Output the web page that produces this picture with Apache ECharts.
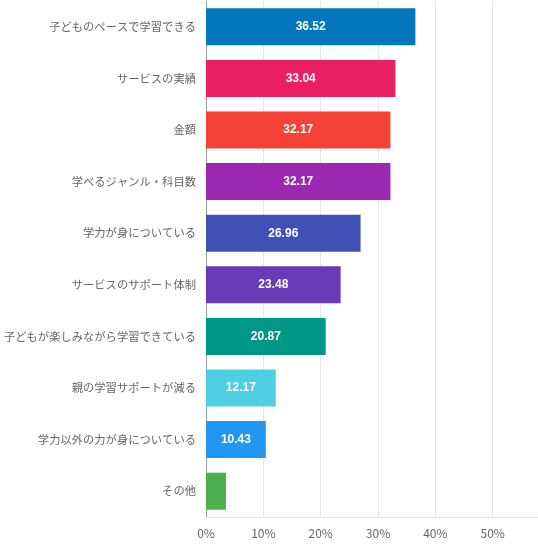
<!DOCTYPE html>
<html>
<head>
<meta charset="utf-8">
<script src="https://cdn.jsdelivr.net/npm/echarts@6/dist/echarts.min.js"></script>
<style>
html,body{margin:0;padding:0;background:#fff;}
#main{width:538px;height:544px;}
</style>
</head>
<body>
<div id="main"></div>
<script>
const categories = [
  "子どものペースで学習できる",
  "サービスの実績",
  "金額",
  "学べるジャンル・科目数",
  "学力が身についている",
  "サービスのサポート体制",
  "子どもが楽しみながら学習できている",
  "親の学習サポートが減る",
  "学力以外の力が身についている",
  "その他"
];
const values = [36.52, 33.04, 32.17, 32.17, 26.96, 23.48, 20.87, 12.17, 10.43, 3.48];
const colors = ["#0277BD", "#E91E63", "#F44336", "#9C27B0", "#3F51B5", "#673AB7", "#009688", "#4DD0E1", "#2196F3", "#4CAF50"];
const showLabel = [true, true, true, true, true, true, true, true, true, false];
const xTicks = [0, 10, 20, 30, 40, 50];

const chart = echarts.init(document.getElementById('main'));
chart.setOption({
  animation: false,
  grid: {left: 206, right: -12, top: 1, bottom: 27, containLabel: false, outerBoundsMode: 'none'},
  xAxis: {
    type: 'value', min: 0, max: 60, interval: 10,
    axisLine: {show: true, lineStyle: {color: '#e6e6e6'}},
    axisTick: {show: false},
    splitLine: {show: true, lineStyle: {color: '#e6e6e6'}},
    axisLabel: {
      color: '#666', fontSize: 12, margin: 10, showMaxLabel: false,
      fontFamily: 'Noto Sans CJK JP',
      formatter: v => xTicks.includes(v) ? v + '%' : ''
    }
  },
  yAxis: {
    type: 'category', data: categories, inverse: true,
    axisLine: {show: true, lineStyle: {color: '#999'}},
    axisTick: {show: false},
    axisLabel: {color: '#666', fontSize: 11.3, margin: 10, fontFamily: 'Noto Sans CJK JP'}
  },
  series: [{
    type: 'bar',
    barWidth: 37,
    data: values.map((v, i) => ({
      value: v,
      itemStyle: {color: colors[i]},
      label: {show: showLabel[i]}
    })),
    label: {
      position: 'inside', color: '#fff', fontWeight: 'bold', fontSize: 12,
      fontFamily: 'Liberation Sans, Arial, sans-serif',
      formatter: p => p.value.toFixed(2)
    }
  }]
});
</script>
</body>
</html>
